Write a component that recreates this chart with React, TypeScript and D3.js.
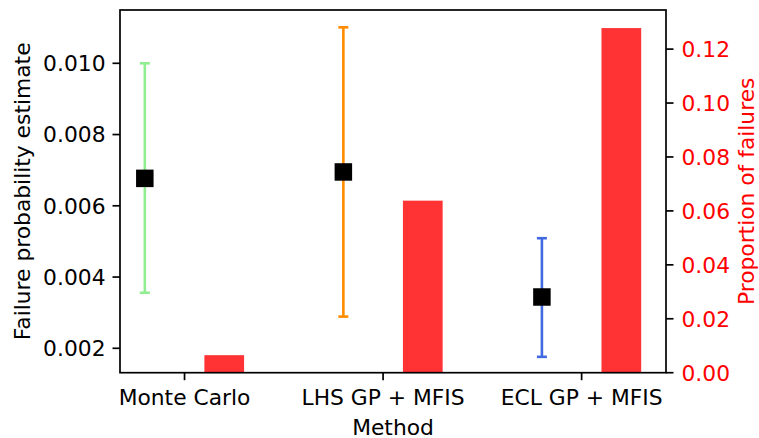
import React from "react";
import * as d3 from "d3";

const methods = ["Monte Carlo", "LHS GP + MFIS", "ECL GP + MFIS"];
const estimates = [0.00677, 0.00695, 0.00344];
const lowerBounds = [0.00356, 0.00289, 0.00176];
const upperBounds = [0.0100, 0.01101, 0.00509];
const errColors = ["#90ee90", "#ff8c00", "#4169e1"];
const failureProportions = [0.0065, 0.0638, 0.1278];
const leftTicks = [0.002, 0.004, 0.006, 0.008, 0.010];
const rightTicks = [0, 0.02, 0.04, 0.06, 0.08, 0.1, 0.12];

const W = 759, H = 438;
const L = 120, R = 666, T = 10, B = 372.7;
const FONT = "DejaVu Sans, sans-serif";
const FS = 21.8;

export default function App() {
  const x = d3.scaleLinear().domain([-0.325, 2.425]).range([L, R]);
  const yL = d3.scaleLinear().domain([0.001315, 0.011496]).range([B, T]);
  const yR = d3.scaleLinear().domain([0, 0.1345]).range([B, T]);
  const bw = x(0.2) - x(0);
  const cap = 5;
  const ms = 17.5;
  const tickLen = 7.5;
  return (
    <svg width={W} height={H} style={{ position: "absolute", left: 0, top: 0 }} fontFamily={FONT}>
      <rect width={W} height={H} fill="white" />
      {methods.map((m, i) => {
        const cx = x(i - 0.2);
        return (
          <g key={"e" + i} stroke={errColors[i]} strokeWidth={2.6}>
            <line x1={cx} x2={cx} y1={yL(lowerBounds[i])} y2={yL(upperBounds[i])} />
            <line x1={cx - cap} x2={cx + cap} y1={yL(lowerBounds[i])} y2={yL(lowerBounds[i])} />
            <line x1={cx - cap} x2={cx + cap} y1={yL(upperBounds[i])} y2={yL(upperBounds[i])} />
          </g>
        );
      })}
      {methods.map((m, i) => (
        <rect key={"m" + i} x={x(i - 0.2) - ms / 2} y={yL(estimates[i]) - ms / 2} width={ms} height={ms} fill="black" />
      ))}
      {methods.map((m, i) => (
        <rect key={"b" + i} x={x(i + 0.2) - bw / 2} y={yR(failureProportions[i])} width={bw} height={B - yR(failureProportions[i])} fill="red" fillOpacity={0.8} />
      ))}
      <rect x={L} y={T} width={R - L} height={B - T} fill="none" stroke="black" strokeWidth={1.7} />
      {leftTicks.map((t) => (
        <g key={"l" + t} transform={`translate(${L},${yL(t)})`}>
          <line x1={-tickLen} x2={0} stroke="black" strokeWidth={1.7} />
          <text x={-tickLen - 7} dy="0.36em" textAnchor="end" fontSize={FS} fill="black">{d3.format(".3f")(t)}</text>
        </g>
      ))}
      {rightTicks.map((t) => (
        <g key={"r" + t} transform={`translate(${R},${yR(t)})`}>
          <line x1={0} x2={tickLen} stroke="black" strokeWidth={1.7} />
          <text x={tickLen + 8} dy="0.36em" textAnchor="start" fontSize={FS} fill="red">{d3.format(".2f")(t)}</text>
        </g>
      ))}
      {methods.map((m, i) => (
        <g key={"x" + i} transform={`translate(${x(i)},${B})`}>
          <line y1={0} y2={tickLen} stroke="black" strokeWidth={1.7} />
          <text y={tickLen + 25} textAnchor="middle" fontSize={FS} fill="black">{m}</text>
        </g>
      ))}
      <text x={(L + R) / 2} y={435} textAnchor="middle" fontSize={FS} fill="black">Method</text>
      <text transform={`translate(30,${(T + B) / 2}) rotate(-90)`} textAnchor="middle" fontSize={FS} fill="black">Failure probability estimate</text>
      <text transform={`translate(${W - 5},${(T + B) / 2}) rotate(-90)`} textAnchor="middle" fontSize={FS} fill="red">Proportion of failures</text>
    </svg>
  );
}
